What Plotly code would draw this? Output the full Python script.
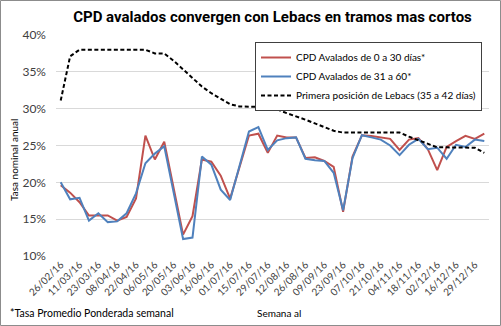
import plotly.graph_objects as go

# ---- data ----
tick_labels = ["26/02/16", "11/03/16", "23/03/16", "08/04/16", "22/04/16", "06/05/16",
               "20/05/16", "03/06/16", "16/06/16", "01/07/16", "15/07/16", "29/07/16",
               "12/08/16", "26/08/16", "09/09/16", "23/09/16", "07/10/16", "21/10/16",
               "04/11/16", "18/11/16", "02/12/16", "16/12/16", "29/12/16"]

cpd_0_30 = [19.6, 18.6, 17.3, 15.5, 15.5, 15.5, 14.8, 15.3, 17.8, 26.35,
            23.1, 25.5, 19.2, 12.9, 15.4, 23.1, 22.8, 20.9, 17.8, 22.0,
            26.35, 26.6, 24.0, 26.35, 26.1, 26.1, 23.3, 23.4, 22.9, 22.1,
            16.0, 23.5, 26.4, 26.3, 26.1, 25.9, 24.4, 25.8, 26.0, 24.5,
            21.65, 24.8, 25.6, 26.3, 25.9, 26.6]

cpd_31_60 = [20.0, 17.7, 17.9, 14.8, 15.8, 14.6, 14.7, 15.8, 18.5, 22.6,
             23.9, 24.9, 18.6, 12.3, 12.5, 23.5, 22.4, 19.0, 17.6, 22.3,
             26.9, 27.5, 24.4, 25.7, 26.0, 26.1, 23.2, 23.0, 22.9, 21.3,
             16.2, 23.3, 26.4, 26.1, 25.8, 25.0, 23.7, 25.1, 25.9, 24.5,
             24.7, 23.2, 25.1, 24.8, 25.8, 25.6]

lebacs = [31.1, 37.1, 38.0, 38.0, 38.0, 38.0, 38.0, 38.0, 38.0, 38.0,
          37.5, 37.5, 36.5, 35.3, 34.1, 33.0, 32.1, 31.3, 30.6, 30.3,
          30.3, 30.25, 30.1, 29.9, 29.4, 29.0, 28.5, 28.0, 27.5, 27.0,
          26.75, 26.75, 26.75, 26.75, 26.75, 26.75, 26.75, 26.2, 25.7, 25.2,
          24.75, 24.75, 24.75, 24.75, 24.7, 24.0]

weeks = list(range(len(cpd_0_30)))
tick_pos = weeks[::2]

FONT = "Lato"
TFONT = "Roboto"
W, H = 501, 326
ML, MR, MT, MB = 56, 12, 35, 70
PW, PH = W - ML - MR, H - MT - MB

fig = go.Figure()
fig.add_trace(go.Scatter(x=weeks, y=cpd_0_30, mode="lines",
                         name="CPD Avalados de 0 a 30 días*",
                         line=dict(color="#C0504D", width=2)))
fig.add_trace(go.Scatter(x=weeks, y=cpd_31_60, mode="lines",
                         name="CPD Avalados de 31 a 60*",
                         line=dict(color="#4F81BD", width=2)))
fig.add_trace(go.Scatter(x=weeks, y=lebacs, mode="lines",
                         name="Primera posición de Lebacs (35 a 42 días)",
                         line=dict(color="#000000", width=2, dash="4px,2.5px")))

def px_x(p):
    return (p - ML) / PW

def px_y(p):
    return (H - MB - p) / PH

fig.update_layout(
    width=W, height=H,
    margin=dict(l=ML, r=MR, t=MT, b=MB),
    paper_bgcolor="white", plot_bgcolor="white",
    font=dict(family=FONT, color="#404040", size=11),
    title=dict(text="<b>CPD avalados convergen con Lebacs en tramos mas cortos</b>",
               x=0.5, xref="paper", xanchor="center",
               y=1 - 16.5 / H, yanchor="middle",
               font=dict(family=TFONT, size=15, color="#000000")),
    showlegend=True,
    legend=dict(x=px_x(482), y=px_y(42), xanchor="right", yanchor="top",
                bgcolor="white", bordercolor="#404040", borderwidth=1,
                font=dict(family=FONT, size=10, color="#000000"),
                itemwidth=30, tracegroupgap=0),
    xaxis=dict(range=[-0.5, len(weeks) - 0.5], tickmode="array",
               tickvals=tick_pos, ticktext=tick_labels, tickangle=-45,
               showgrid=False, zeroline=False, showline=False, ticks="",
               tickfont=dict(family=FONT, size=10, color="#404040")),
    yaxis=dict(range=[10, 40], tickvals=[10, 15, 20, 25, 30, 35, 40],
               ticktext=["10%", "15%", "20%", "25%", "30%", "35%", "40%"],
               showgrid=True, gridcolor="#D9D9D9", gridwidth=1,
               zeroline=False, showline=False, ticks="",
               ticklabelstandoff=9,
               tickfont=dict(family=FONT, size=12, color="#404040")),
    shapes=[dict(type="rect", xref="paper", yref="paper",
                 x0=px_x(0.5), x1=px_x(500.5), y0=px_y(325.5), y1=px_y(0.5),
                 line=dict(color="#8C8C8C", width=1), layer="below")],
    annotations=[
        dict(text="Tasa nominal anual", xref="paper", yref="paper",
             x=px_x(14), y=px_y(160), textangle=-90, showarrow=False,
             xanchor="center", yanchor="middle",
             font=dict(family=FONT, size=10, color="#000000")),
        dict(text="Semana al", xref="paper", yref="paper",
             x=px_x(279), y=px_y(313), showarrow=False,
             xanchor="center", yanchor="middle",
             font=dict(family=FONT, size=10, color="#000000")),
        dict(text="*Tasa Promedio Ponderada semanal", xref="paper", yref="paper",
             x=px_x(8), y=px_y(313), showarrow=False,
             xanchor="left", yanchor="middle",
             font=dict(family=FONT, size=10.5, color="#000000")),
    ],
)

fig.write_html("out.html")
